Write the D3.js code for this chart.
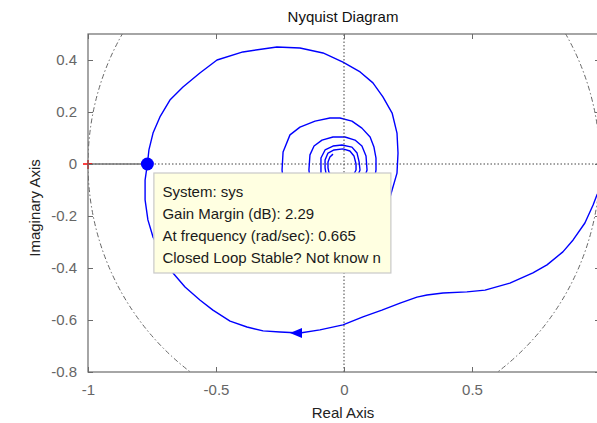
<!DOCTYPE html>
<html>
<head>
<meta charset="utf-8">
<script src="https://cdn.jsdelivr.net/npm/d3@7"></script>
<style>
  html, body { margin: 0; padding: 0; background: #ffffff; }
  svg { display: block; font-family: "Liberation Sans", Arial, sans-serif; }
</style>
</head>
<body>
<svg id="chart" width="597" height="423"></svg>
<script>
// ---------------- data ----------------
const xTicks = [-1, -0.5, 0, 0.5, 1];
const yTicks = [-0.8, -0.6, -0.4, -0.2, 0, 0.2, 0.4];
const xTickLabels = ["-1", "-0.5", "0", "0.5", ""];   // the "1" label falls outside the window
const yTickLabels = ["-0.8", "-0.6", "-0.4", "-0.2", "0", "0.2", "0.4"];

// Nyquist curve, real and imaginary parts
const nyqRe = [
  1.03, 0.988, 0.973, 0.941, 0.895, 0.855, 0.793, 0.738, 0.648, 0.551, 0.480, 0.387, 0.324, 0.285,
  0.219, 0.148, 0.074, -0.004, -0.094, -0.172, -0.250, -0.316, -0.379, -0.445, -0.512, -0.563,
  -0.621, -0.668, -0.707, -0.746, -0.766, -0.777, -0.777, -0.768, -0.762, -0.746, -0.719, -0.680,
  -0.629, -0.563, -0.496, -0.395, -0.262, -0.172, -0.082, -0.004, 0.063, 0.113, 0.152, 0.188,
  0.207, 0.211, 0.207, 0.180, 0.140, 0.082, 0.004, -0.086, -0.160, -0.211, -0.234,
  -0.242, -0.238, -0.211, -0.172, -0.113, -0.055, -0.016, 0.031, 0.070, 0.102, 0.117, 0.125, 0.125,
  0.113, 0.070, 0.004, -0.062, -0.109, -0.133,
  -0.137, -0.133, -0.117, -0.086, -0.043, 0.004, 0.043, 0.070, 0.086, 0.090,
  0.074, 0.031, -0.023, -0.070, -0.090,
  -0.090, -0.090, -0.074, -0.043, -0.008, 0.031, 0.051, 0.059, 0.0625,
  0.047, 0.004, -0.043, -0.070,
  -0.074, -0.074, -0.0625, -0.039, -0.004, 0.023, 0.039, 0.047, 0.047,
  0.031, -0.008, -0.043, -0.059,
  -0.0625, -0.0625, -0.055, -0.043
];
const nyqIm = [
  -0.060, -0.119, -0.158, -0.227, -0.292, -0.338, -0.388, -0.419, -0.458, -0.485, -0.492, -0.496, -0.504, -0.512,
  -0.535, -0.562, -0.588, -0.619, -0.638, -0.650, -0.646, -0.642, -0.627, -0.604, -0.562, -0.523,
  -0.473, -0.419, -0.350, -0.281, -0.215, -0.138, -0.062, 0.000, 0.054, 0.119, 0.181, 0.246,
  0.296, 0.350, 0.400, 0.431, 0.450, 0.446, 0.427, 0.392, 0.354, 0.312, 0.258, 0.196,
  0.119, 0.042, -0.035, -0.127, -0.215, -0.273, -0.304, -0.292, -0.246, -0.177, -0.100,
  -0.023, 0.046, 0.112, 0.142, 0.165, 0.177, 0.177, 0.165, 0.138, 0.104, 0.065, 0.023, -0.023,
  -0.100, -0.158, -0.180, -0.165, -0.110, -0.054,
  -0.023, 0.035, 0.069, 0.092, 0.104, 0.104, 0.092, 0.069, 0.031, -0.023,
  -0.070, -0.100, -0.100, -0.070, -0.035,
  -0.015, 0.023, 0.054, 0.069, 0.073, 0.065, 0.042, 0.008, -0.023,
  -0.062, -0.081, -0.070, -0.038,
  -0.015, 0.015, 0.042, 0.054, 0.058, 0.050, 0.031, 0.000, -0.023,
  -0.054, -0.065, -0.054, -0.031,
  -0.015, 0.008, 0.027, 0.038
];

const criticalPoint = { re: -1, im: 0 };
const gainMarginPoint = { re: -0.768, im: 0 };
const arrowPoint = { re: -0.211, im: -0.650 };   // arrow tip, pointing to decreasing Re
const titleText = "Nyquist Diagram";
const xLabelText = "Real Axis";
const yLabelText = "Imaginary Axis";
const tooltipLines = [
  "System: sys",
  "Gain Margin (dB): 2.29",
  "At frequency (rad/sec): 0.665",
  "Closed Loop Stable? Not know n"
];

// ---------------- layout ----------------
const svg = d3.select("#chart");
const pLeft = 88, pRight = 600, pTop = 34, pBottom = 372;
const x = d3.scaleLinear().domain([-1, 1]).range([pLeft, pRight]);
const y = d3.scaleLinear().domain([-0.8, 0.5]).range([pBottom, pTop]);
const axisGray = "#6b6b6b";

svg.append("defs").append("clipPath").attr("id", "plotclip")
  .append("rect").attr("x", pLeft).attr("y", pTop).attr("width", pRight - pLeft).attr("height", pBottom - pTop);

const plot = svg.append("g").attr("clip-path", "url(#plotclip)");

// unit circle (dash-dot)
plot.append("ellipse")
  .attr("cx", x(0)).attr("cy", y(0))
  .attr("rx", x(1) - x(0)).attr("ry", y(0) - y(1))
  .attr("fill", "none").attr("stroke", "#666").attr("stroke-width", 1)
  .attr("stroke-dasharray", "5,2.5,1.5,2.5");

// horizontal zero line (dotted)
plot.append("line")
  .attr("x1", x(-1)).attr("x2", x(1)).attr("y1", y(0)).attr("y2", y(0))
  .attr("stroke", "#444").attr("stroke-width", 1).attr("stroke-dasharray", "1.5,2");

// gain margin line from critical point to crossing
plot.append("line")
  .attr("x1", x(criticalPoint.re)).attr("x2", x(gainMarginPoint.re))
  .attr("y1", y(0)).attr("y2", y(0))
  .attr("stroke", "#777").attr("stroke-width", 1.6);

// Nyquist curve
const pts = nyqRe.map((r, i) => [r, nyqIm[i]]);
const line = d3.line().x(d => x(d[0])).y(d => y(d[1]));
plot.append("path").datum(pts)
  .attr("d", line)
  .attr("fill", "none").attr("stroke", "#0000ff").attr("stroke-width", 1.4)
  .attr("stroke-linejoin", "round");

// direction arrow
const ax = x(arrowPoint.re), ay = y(arrowPoint.im);
plot.append("path")
  .attr("d", `M${ax},${ay} L${ax + 12},${ay - 5} L${ax + 12},${ay + 5} Z`)
  .attr("fill", "#0000ff");

// red + at the critical point
const cx = x(criticalPoint.re), cy = y(criticalPoint.im);
svg.append("path")
  .attr("d", `M${cx - 5},${cy} H${cx + 4} M${cx},${cy - 4} V${cy + 5}`)
  .attr("stroke", "#ff0000").attr("stroke-width", 1.5).attr("fill", "none");

// gain-margin marker
const gx = x(gainMarginPoint.re), gy = y(gainMarginPoint.im);
svg.append("circle").attr("cx", gx).attr("cy", gy).attr("r", 6.5).attr("fill", "#0000ff");

// tooltip box
const bx = gx + 6.5, by = gy + 9, bw = 237, bh = 100;
svg.append("rect").attr("x", bx).attr("y", by).attr("width", bw).attr("height", bh)
  .attr("fill", "#ffffe1").attr("stroke", "#c9c9c9").attr("stroke-width", 1.2);
svg.append("g").selectAll("text").data(tooltipLines).join("text")
  .attr("x", bx + 8.5).attr("y", (d, i) => by + 23.5 + i * 22)
  .attr("font-size", 15).attr("fill", "#1a1a1a").text(d => d);

// vertical zero line (dotted, over the box)
plot.append("line")
  .attr("x1", x(0)).attr("x2", x(0)).attr("y1", y(-0.8)).attr("y2", y(0.5))
  .attr("stroke", "#444").attr("stroke-width", 1).attr("stroke-dasharray", "1.5,2");

// axes
const tl = 5;
svg.append("rect").attr("x", pLeft).attr("y", pTop).attr("width", pRight - pLeft).attr("height", pBottom - pTop)
  .attr("fill", "none").attr("stroke", axisGray).attr("stroke-width", 1.2);

const axB = d3.axisBottom(x).tickValues(xTicks).tickFormat((d, i) => xTickLabels[i]).tickSizeInner(-tl).tickSizeOuter(0).tickPadding(12);
const axT = d3.axisTop(x).tickValues(xTicks).tickFormat("").tickSizeInner(-tl).tickSizeOuter(0);
const axL = d3.axisLeft(y).tickValues(yTicks).tickFormat((d, i) => yTickLabels[i]).tickSizeInner(-tl).tickSizeOuter(0).tickPadding(11);
const axR = d3.axisRight(y).tickValues(yTicks).tickFormat("").tickSizeInner(-tl).tickSizeOuter(0);

function styleAxis(g) {
  g.select(".domain").remove();
  g.selectAll(".tick line").attr("stroke", axisGray).attr("stroke-width", 1);
  g.selectAll(".tick text").attr("fill", "#666").attr("font-size", 15)
    .attr("font-family", "'Liberation Sans', Arial, sans-serif");
}
svg.append("g").attr("transform", `translate(0,${pBottom})`).call(axB).call(styleAxis);
svg.append("g").attr("transform", `translate(0,${pTop})`).call(axT).call(styleAxis);
svg.append("g").attr("transform", `translate(${pLeft},0)`).call(axL).call(styleAxis);
svg.append("g").attr("transform", `translate(${pRight},0)`).call(axR).call(styleAxis);

// titles
svg.append("text").attr("x", 343).attr("y", 22).attr("text-anchor", "middle")
  .attr("font-size", 15).attr("fill", "#111").text(titleText);
svg.append("text").attr("x", 343).attr("y", 418).attr("text-anchor", "middle")
  .attr("font-size", 15).attr("fill", "#222").text(xLabelText);
svg.append("text").attr("transform", "translate(40,208) rotate(-90)").attr("text-anchor", "middle")
  .attr("font-size", 15).attr("fill", "#222").text(yLabelText);
</script>
</body>
</html>
